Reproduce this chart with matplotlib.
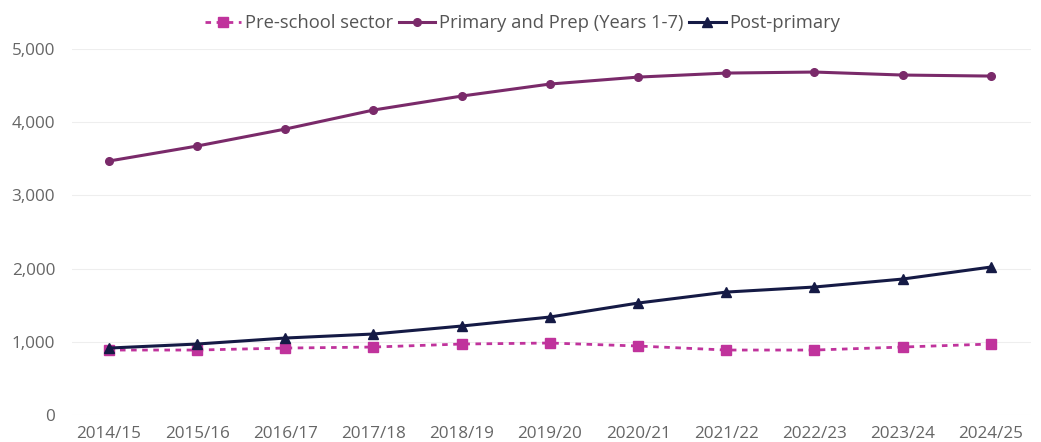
import matplotlib
matplotlib.use('Agg')
import matplotlib.pyplot as plt
from matplotlib.ticker import FuncFormatter

years = ['2014/15', '2015/16', '2016/17', '2017/18', '2018/19', '2019/20',
         '2020/21', '2021/22', '2022/23', '2023/24', '2024/25']
pre_school = [888, 888, 915, 929, 970, 984, 943, 888, 888, 929, 970]
primary = [3470, 3675, 3907, 4167, 4358, 4522, 4617, 4672, 4686, 4645, 4631]
post_primary = [915, 970, 1052, 1107, 1216, 1339, 1530, 1680, 1749, 1858, 2022]

plt.rcParams['font.family'] = ['Open Sans', 'DejaVu Sans']

fig = plt.figure(figsize=(10.41, 4.42), dpi=100)
ax = fig.add_axes([0.069, 0.061, 0.921, 0.828])

x = range(len(years))
ax.plot(x, pre_school, color='#C0339C', ls=(0, (2, 2)), lw=2, marker='s', ms=6.5,
        label='Pre-school sector')
ax.plot(x, primary, color='#7A2A6A', lw=2.2, marker='o', ms=5.5,
        label='Primary and Prep (Years 1-7)')
ax.plot(x, post_primary, color='#151A45', lw=2.2, marker='^', ms=6.5,
        label='Post-primary')

ax.set_ylim(0, 5000)
ax.set_xlim(-0.42, 10.45)
ax.set_yticks(range(0, 5001, 1000))
ax.yaxis.set_major_formatter(FuncFormatter(lambda v, p: '{:,.0f}'.format(v)))
ax.set_xticks(list(x))
ax.set_xticklabels(years)
ax.tick_params(length=0, labelsize=12.3, colors='#666666', pad=8)
ax.tick_params(axis='y', pad=12)
ax.grid(axis='y', color='#EEEEEE', lw=0.8)
ax.set_axisbelow(True)
for s in ax.spines.values():
    s.set_visible(False)

ax.legend(loc='upper center', bbox_to_anchor=(0.47, 1.14), ncol=3, frameon=False,
          fontsize=13.2, handlelength=2.0, handletextpad=0.2, columnspacing=0.3,
          labelcolor='#555555')

fig.savefig('out.png', dpi=100)
